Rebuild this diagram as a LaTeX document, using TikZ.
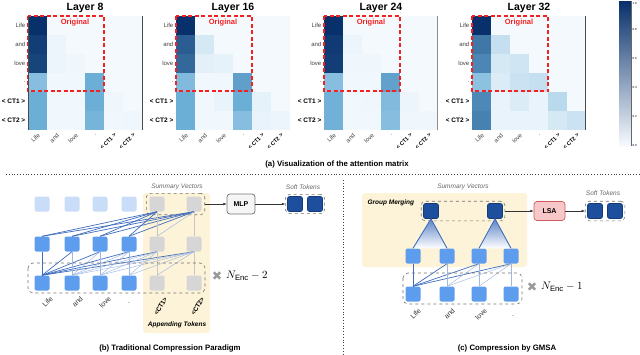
\documentclass[tikz,border=0pt]{standalone}
\usepackage{fontspec}
\setmainfont{Liberation Sans}
\newfontfamily\symbolfont{DejaVu Sans}
\usetikzlibrary{arrows.meta,positioning,calc,fit}
\definecolor{hmpale}{HTML}{F7FBFF}
\definecolor{hmmid}{HTML}{6BAED6}
\definecolor{hmdark}{HTML}{08306B}
\definecolor{origred}{HTML}{F52020}
\definecolor{tokpalec}{HTML}{C9DCF8}
\definecolor{tokbluec}{HTML}{5E9DEE}
\definecolor{tokgrayc}{HTML}{D6D6D6}
\definecolor{tokdarkc}{HTML}{1E4F9C}
\definecolor{tokedgec}{HTML}{143A7A}
\definecolor{summaryc}{HTML}{FDF3D8}
\definecolor{lsafill}{HTML}{F8C8C8}
\definecolor{lsadraw}{HTML}{CF5B5D}
\definecolor{attnblue}{HTML}{3F6DBE}
\definecolor{attnlight}{HTML}{9FB8E2}
\tikzset{
  hmtick/.style={font=\fontsize{6}{7}\selectfont, text=black!75, inner sep=0.5pt},
  hmtickct/.style={font=\fontsize{6.5}{7}\selectfont\bfseries, text=black, inner sep=0.5pt},
  hmtickcol/.style={font=\fontsize{5.5}{6}\selectfont\bfseries, text=black, inner sep=0.3pt},
  hmtitle/.style={font=\fontsize{10.5}{12}\selectfont\bfseries},
  origbox/.style={draw=origred, line width=1.4pt, dash pattern=on 4pt off 2.5pt},
  origtext/.style={font=\fontsize{7.5}{9}\selectfont\bfseries, text=origred},
  capt/.style={font=\fontsize{7.8}{9}\selectfont\bfseries},
  sepline/.style={line width=0.8pt, dotted, black!75},
  tokbox/.style={rounded corners=2pt, minimum size=15pt, inner sep=0pt},
  tokpale/.style={tokbox, fill=tokpalec},
  tokblue/.style={tokbox, fill=tokbluec},
  tokgray/.style={tokbox, fill=tokgrayc},
  tokdark/.style={tokbox, fill=tokdarkc, draw=tokedgec, line width=0.6pt},
  groupbox/.style={draw=black!55, dashed, rounded corners=4pt, line width=0.6pt},
  summarybg/.style={fill=summaryc, rounded corners=3pt},
  opbox/.style={draw=black!55, fill=black!4, rounded corners=3pt, line width=0.7pt, minimum width=28pt, minimum height=20pt, font=\fontsize{7}{8}\selectfont\bfseries},
  lsabox/.style={opbox, draw=lsadraw, fill=lsafill, minimum width=31pt, minimum height=19pt},
  itnote/.style={font=\fontsize{6.5}{8}\selectfont\itshape, text=black!60},
  boldnote/.style={font=\fontsize{6.5}{8}\selectfont\bfseries\itshape},
  toklab/.style={font=\fontsize{7}{8}\selectfont, text=black!80, inner sep=0.5pt},
  toklabct/.style={font=\fontsize{6.5}{8}\selectfont\bfseries, inner sep=0.5pt},
  attnline/.style={draw=attnblue, line width=0.7pt},
  attnfaint/.style={draw=attnlight, line width=0.45pt},
  vline/.style={draw=black!22, line width=0.9pt},
  flowarrow/.style={-{Latex[length=3.2pt,width=2.6pt]}, line width=0.5pt, draw=black!80},
  repmark/.style={font=\symbolfont\fontsize{12.5}{13}\selectfont, text=black!40},
  repnote/.style={font=\fontsize{11}{12}\selectfont, anchor=west, inner sep=0pt}
}
% one attention heatmap: left x, layer, rows of values (0-100)
\newcommand{\attnmap}[3]{%
  \fill[hmpale] (#1,16) rectangle ++(114,114);
  \foreach \vals [count=\r from 0] in {#3} {
    \foreach \v [count=\c from 0] in \vals {
      \ifnum\v>50 \pgfmathtruncatemacro\w{2*(\v-50)}\colorlet{cellc}{hmdark!\w!hmmid}%
      \else \pgfmathtruncatemacro\w{2*\v}\colorlet{cellc}{hmmid!\w!hmpale}\fi
      \fill[cellc] (#1+19*\c,16+19*\r) rectangle ++(19,19);
    }
  }
  \node[hmtitle] (layer#2) at (#1+57,8) {Layer #2};
  \foreach \lab [count=\r from 0] in {Life,and,love,.}
    \node[hmtick, anchor=east] at (#1-2,25.5+19*\r) {\lab};
  \node[hmtickct, anchor=east] at (#1-2,101.5) {< CT1 >};
  \node[hmtickct, anchor=east] at (#1-2,120.5) {< CT2 >};
  \foreach \lab [count=\c from 0] in {Life,and,love,.}
    \node[hmtick, anchor=east, rotate=45] at (#1+11.5+19*\c,134) {\lab};
  \node[hmtickcol, anchor=east, rotate=45] at (#1+87.5,134) {< CT1 >};
  \node[hmtickcol, anchor=east, rotate=45] at (#1+106.5,134) {< CT2 >};
  \draw[origbox] (#1,16) rectangle ++(76,75);
  \node[origtext] (orig#2) at (#1+47,23) {Original};
}
\begin{document}
\begin{tikzpicture}[x=1pt, y=-1pt]
  \useasboundingbox (0,0) rectangle (640,354);

  % (a) attention maps
  \attnmap{28}{8}{{100,1,1,1,1,1},{95,4,1,1,1,1},{92,4,3,1,1,1},{40,2,2,50,1,1},{50,2,2,50,3,1},{50,2,2,46,2,3}}
  \attnmap{176}{16}{{100,1,1,1,1,1},{82,12,1,1,1,1},{78,7,6,1,1,1},{42,2,2,56,1,1},{50,2,5,50,6,1},{50,2,2,40,5,4}}
  \attnmap{324}{24}{{100,1,1,1,1,1},{96,4,1,1,1,1},{95,3,3,1,1,1},{40,2,2,55,1,1},{48,2,3,42,4,1},{48,2,2,40,3,3}}
  \attnmap{472}{32}{{100,1,1,1,1,1},{72,18,1,1,1,1},{66,12,14,1,1,1},{38,10,16,18,1,1},{65,5,10,5,22,1},{68,5,5,5,12,16}}
  \draw[black!70, line width=0.6pt] (28,16) -- (28,130);
  \draw[black!70, line width=0.6pt] (142,16) -- (142,130);
  \draw[black!45, line width=0.6pt] (437,16) -- (437,130);
  \draw[black!70, line width=0.6pt] (585,16) -- (585,130);

  % colour bar
  \shade[bottom color=hmpale, middle color=hmmid, top color=hmdark] (619,1) rectangle (631,146);
  \draw[black!60, line width=0.4pt] (631,1) -- (631,146);
  \foreach \tk [count=\k from 0] in {0.0,0.2,0.4,0.6,0.8}
    \node[font=\fontsize{3}{3}\selectfont, anchor=west, inner sep=0.3pt] at (632,145-29*\k) {\tk};
  \node[font=\fontsize{3}{3}\selectfont, anchor=west, inner sep=0.3pt] at (632,3) {1.0};

  \node[capt] (capa) at (337,164) {(a) Visualization of the attention matrix};
  \draw[sepline] (6,174) -- (640,174);
  \draw[sepline] (343,180) -- (343,354);

  % (b) traditional paradigm
  \fill[summarybg] (143,193) rectangle (210,333);
  \node[itnote] (sumlabb) at (177,187) {Summary Vectors};
  \foreach \x [count=\i] in {42,72,100,129} {
    \node[tokpale] (tb\i) at (\x,204) {};
    \node[tokblue] (mb\i) at (\x,244) {};
    \node[tokblue] (bb\i) at (\x,283) {};
  }
  \foreach \x [count=\i from 5] in {157,194} {
    \node[tokgray] (tb\i) at (\x,204) {};
    \node[tokgray] (mb\i) at (\x,244) {};
    \node[tokgray] (bb\i) at (\x,283) {};
  }
  \node[groupbox, fit=(tb5)(tb6), inner sep=3pt] (sumb) {};
  \node[opbox] (mlp) at (241,204) {MLP};
  \node[tokdark] (sb1) at (295,204) {};
  \node[tokdark] (sb2) at (315,204) {};
  \node[groupbox, fit=(sb1)(sb2), inner sep=1.8pt] (softb) {};
  \node[itnote] (softlabb) at (303,187) {Soft Tokens};
  \draw[flowarrow] (sumb.east) -- (mlp.west);
  \draw[flowarrow] (mlp.east) -- (softb.west);

  \foreach \i in {1,...,6} {
    \foreach \j in {\i,...,6} {
      \ifnum\i>4
        \ifnum\i=\j \draw[vline] (bb\i.north) -- (mb\j.south);
        \else \draw[attnfaint] (bb\i.north) -- (mb\j.south); \fi
      \else
        \ifnum\i=1 \draw[attnline] (bb\i.north) -- (mb\j.south);
        \else \draw[attnfaint] (bb\i.north) -- (mb\j.south); \fi
      \fi
    }
  }
  \foreach \i in {1,...,6} {
    \foreach \j in {5,6} {
      \ifnum\i>\j \else
        \ifnum\i=\j \draw[vline] (mb\i.north) -- (tb\j.south);
        \else
          \ifnum\i=5 \draw[attnfaint] (mb\i.north) -- (tb\j.south);
          \else \draw[attnline] (mb\i.north) -- (tb\j.south); \fi
        \fi
      \fi
    }
  }
  \draw[groupbox, rounded corners=5pt] (28,263) rectangle (205,293);
  \node[repmark] (repb) at (217,276) {✖};
  \node[repnote] (nencb) at (226,276) {$N_{\mathrm{Enc}}-2$};
  \foreach \lab [count=\i] in {Life,and,love}
    \node[toklab, anchor=east, rotate=45] at ($(bb\i)+(10,14)$) {\lab};
  \node[toklab] at (129,303) {.};
  \node[toklabct, anchor=east, rotate=60] at ($(bb5)+(9,14)$) {<CT1>};
  \node[toklabct, anchor=east, rotate=60] at ($(bb6)+(9,14)$) {<CT2>};
  \node[boldnote] (apptok) at (177,325) {Appending Tokens};
  \node[capt] (capb) at (170,348) {(b) Traditional Compression Paradigm};

  % (c) GMSA
  \fill[summarybg] (362,193) rectangle (527,267);
  \node[itnote] (sumlabc) at (463,187) {Summary Vectors};
  \node[boldnote, anchor=west] (merge) at (364,203) {Group Merging};
  \node[tokdark] (tc1) at (431,211) {};
  \node[tokdark] (tc2) at (495,211) {};
  \node[groupbox, fit=(tc1)(tc2), inner sep=2pt] (topc) {};
  \foreach \x [count=\i] in {413,447,479,511} {
    \node[tokblue] (mc\i) at (\x,256) {};
    \node[tokblue] (bc\i) at (\x,294) {};
  }
  \node[lsabox] (lsa) at (549.5,211) {LSA};
  \node[tokdark] (sc1) at (595,211) {};
  \node[tokdark] (sc2) at (615,211) {};
  \node[groupbox, fit=(sc1)(sc2), inner sep=2pt] (softc) {};
  \node[itnote] (softlabc) at (603,193) {Soft Tokens};
  \draw[flowarrow] (topc.east) -- (lsa.west);
  \draw[flowarrow] (lsa.east) -- (softc.west);

  \shade[top color=attnblue!85, bottom color=white] (tc1.south) -- (mc1.north) -- (mc2.north) -- cycle;
  \shade[top color=attnblue!85, bottom color=white] (tc2.south) -- (mc3.north) -- (mc4.north) -- cycle;
  \draw[attnline, line width=0.9pt] (mc1.north) -- (tc1.south) -- (mc2.north);
  \draw[attnline, line width=0.9pt] (mc3.north) -- (tc2.south) -- (mc4.north);

  \foreach \i in {1,...,4} {
    \foreach \j in {\i,...,4} {
      \ifnum\i=1 \draw[attnline] (bc\i.north) -- (mc\j.south);
      \else \draw[attnfaint] (bc\i.north) -- (mc\j.south); \fi
    }
  }
  \draw[groupbox, rounded corners=5pt] (403,273) rectangle (522,304);
  \node[repmark] (repc) at (532,287) {✖};
  \node[repnote] (nencc) at (541,287) {$N_{\mathrm{Enc}}-1$};
  \foreach \lab [count=\i] in {Life,and,love}
    \node[toklab, anchor=east, rotate=45] at ($(bc\i)+(7,15)$) {\lab};
  \node[toklab] at (513,316) {.};
  \node[capt] (capc) at (507,348) {(c) Compression by GMSA};
\end{tikzpicture}
\end{document}
